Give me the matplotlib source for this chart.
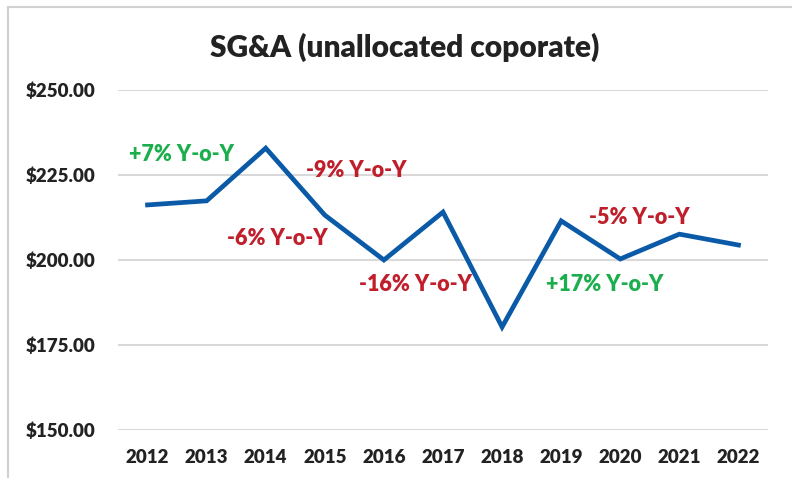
import matplotlib
matplotlib.use("Agg")
import matplotlib.pyplot as plt
from matplotlib.patches import Rectangle

years = ["2012", "2013", "2014", "2015", "2016", "2017", "2018", "2019", "2020", "2021", "2022"]
sga = [216.2, 217.4, 232.9, 213.2, 200.0, 214.1, 180.3, 211.5, 200.3, 207.6, 204.4]
yticks = [150, 175, 200, 225, 250]

yoy_labels = ["+7% Y-o-Y", "-9% Y-o-Y", "-6% Y-o-Y", "-16% Y-o-Y", "+17% Y-o-Y", "-5% Y-o-Y"]

BLUE = "#0A5AA8"
RED = "#BF1E2A"
GREEN = "#1AAE4C"
TEXT = "#222222"
GRID = "#D9D9D9"

plt.rcParams["font.family"] = ["Lato", "DejaVu Sans"]

fig = plt.figure(figsize=(7.92, 4.78), dpi=100)
fig.patch.set_facecolor("white")

# chart frame
fig.patches.append(Rectangle((8 / 792, -0.1), 1.2, 1 - 7 / 478 + 0.1,
                             transform=fig.transFigure, fill=False,
                             edgecolor="#D0D0D0", linewidth=1.5))

ax = fig.add_axes([118 / 792, 1 - 430 / 478, 650 / 792, 340 / 478])
x = list(range(len(years)))
ax.plot(x, sga, color=BLUE, linewidth=3.4, solid_joinstyle="miter", zorder=3)

ax.set_xlim(-0.5, len(years) - 0.5)
ax.set_ylim(150, 250)
ax.set_yticks(yticks)
ax.set_yticklabels([f"${v:,.2f}" for v in yticks])
ax.set_xticks(x)
ax.set_xticklabels(years)
ax.grid(axis="y", color=GRID, linewidth=1.5)
ax.set_axisbelow(True)
for s in ax.spines.values():
    s.set_visible(False)
ax.tick_params(length=0, labelsize=13.5, labelcolor=TEXT)
ax.tick_params(axis="y", pad=16)
ax.tick_params(axis="x", pad=14)
for lab in ax.get_xticklabels() + ax.get_yticklabels():
    lab.set_fontweight("heavy")

# year-over-year callouts
label_pos = [(0.57, 230.9), (3.54, 226.3), (2.19, 206.2), (4.54, 192.9), (7.74, 192.9), (8.33, 212.6)]
label_col = [GREEN, RED, RED, RED, GREEN, RED]
for text, (lx, ly), c in zip(yoy_labels, label_pos, label_col):
    ax.text(lx, ly, text, color=c, fontsize=15.5, fontweight="heavy",
            ha="center", va="center")

fig.text(405 / 792, 1 - 47 / 478, "SG&A (unallocated coporate)", ha="center", va="center",
         fontsize=21.5, fontweight="heavy", color=TEXT)

fig.savefig("out.png", dpi=100, facecolor="white")
